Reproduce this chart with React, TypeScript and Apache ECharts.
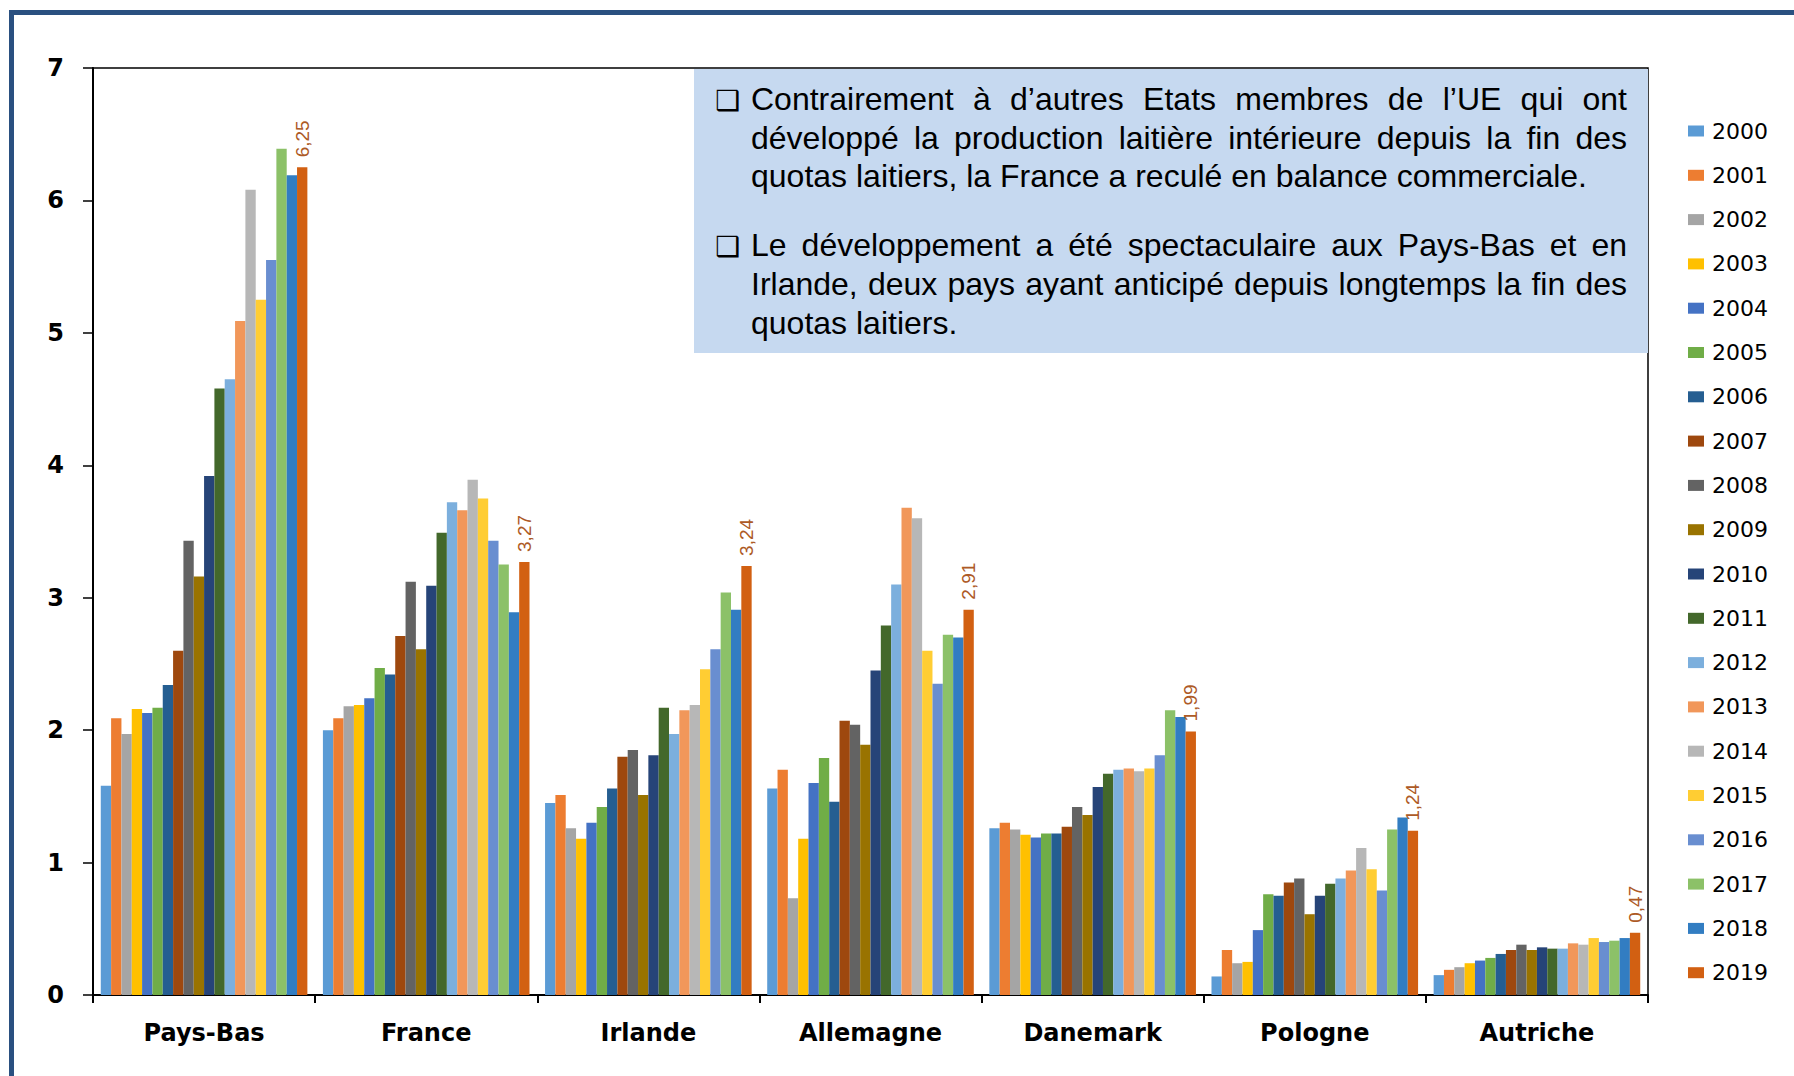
import React, { useEffect, useRef } from "react";
import * as echarts from "echarts";

const categories = ["Pays-Bas", "France", "Irlande", "Allemagne", "Danemark", "Pologne", "Autriche"];
const years = ["2000", "2001", "2002", "2003", "2004", "2005", "2006", "2007", "2008", "2009", "2010", "2011", "2012", "2013", "2014", "2015", "2016", "2017", "2018", "2019"];

const paysBas = [1.58, 2.09, 1.97, 2.16, 2.13, 2.17, 2.34, 2.6, 3.43, 3.16, 3.92, 4.58, 4.65, 5.09, 6.08, 5.25, 5.55, 6.39, 6.19, 6.25];
const france = [2.0, 2.09, 2.18, 2.19, 2.24, 2.47, 2.42, 2.71, 3.12, 2.61, 3.09, 3.49, 3.72, 3.66, 3.89, 3.75, 3.43, 3.25, 2.89, 3.27];
const irlande = [1.45, 1.51, 1.26, 1.18, 1.3, 1.42, 1.56, 1.8, 1.85, 1.51, 1.81, 2.17, 1.97, 2.15, 2.19, 2.46, 2.61, 3.04, 2.91, 3.24];
const allemagne = [1.56, 1.7, 0.73, 1.18, 1.6, 1.79, 1.46, 2.07, 2.04, 1.89, 2.45, 2.79, 3.1, 3.68, 3.6, 2.6, 2.35, 2.72, 2.7, 2.91];
const danemark = [1.26, 1.3, 1.25, 1.21, 1.19, 1.22, 1.22, 1.27, 1.42, 1.36, 1.57, 1.67, 1.7, 1.71, 1.69, 1.71, 1.81, 2.15, 2.1, 1.99];
const pologne = [0.14, 0.34, 0.24, 0.25, 0.49, 0.76, 0.75, 0.85, 0.88, 0.61, 0.75, 0.84, 0.88, 0.94, 1.11, 0.95, 0.79, 1.25, 1.34, 1.24];
const autriche = [0.15, 0.19, 0.21, 0.24, 0.26, 0.28, 0.31, 0.34, 0.38, 0.34, 0.36, 0.35, 0.35, 0.39, 0.38, 0.43, 0.4, 0.41, 0.43, 0.47];

const countryValues = [paysBas, france, irlande, allemagne, danemark, pologne, autriche];

const yearColors = ["#5B9BD5", "#ED7D31", "#A5A5A5", "#FFC000", "#4472C4", "#70AD47", "#255E91", "#9E480E", "#636363", "#997300", "#264478", "#43682B", "#7CAFDD", "#F1975A", "#B7B7B7", "#FFCD33", "#698ED0", "#8CC168", "#327DC2", "#D26012"];

const noteLines = [
  { text: "Contrairement à d’autres Etats membres de l’UE qui ont", justify: true, bullet: true },
  { text: "développé la production laitière intérieure depuis la fin des", justify: true, bullet: false },
  { text: "quotas laitiers, la France a reculé en balance commerciale.", justify: false, bullet: false },
  { text: "Le développement a été spectaculaire aux Pays-Bas et en", justify: true, bullet: true },
  { text: "Irlande, deux pays ayant anticipé depuis longtemps la fin des", justify: true, bullet: false },
  { text: "quotas laitiers.", justify: false, bullet: false },
];

export default function App() {
  const ref = useRef<HTMLDivElement>(null);

  useEffect(() => {
    if (!ref.current) return;
    const chart = echarts.init(ref.current, null, { renderer: "svg" });

    const W = 1794;
    const H = 1076;
    const gridLeft = 93;
    const gridRight = 1648;
    const gridTop = 68;
    const gridBottom = 995;

    const fontSize = 32;
    const fontFamily = "Liberation Sans";
    const canvas = document.createElement("canvas");
    const ctx = canvas.getContext("2d") as CanvasRenderingContext2D;
    ctx.font = `${fontSize}px "${fontFamily}"`;
    const textLeft = 751;
    const textRight = 1627;
    const lineYs = [99, 137.5, 176, 245, 284, 322.5];

    const textEls: any[] = [];
    noteLines.forEach((ln, i) => {
      const y = lineYs[i];
      if (ln.bullet) {
        textEls.push({
          type: "text",
          x: 715,
          y: y + 1,
          z: 20,
          style: { text: "❑", fontSize: 28, fontWeight: "bold", fontFamily: "DejaVu Sans", fill: "#000", align: "left", verticalAlign: "middle" },
        });
      }
      if (ln.justify) {
        const words = ln.text.split(" ");
        const widths = words.map((w) => ctx.measureText(w).width);
        const total = widths.reduce((a, b) => a + b, 0);
        const gap = (textRight - textLeft - total) / (words.length - 1);
        let x = textLeft;
        words.forEach((w, k) => {
          textEls.push({
            type: "text",
            x,
            y,
            z: 20,
            style: { text: w, fontSize, fontFamily, fill: "#000", align: "left", verticalAlign: "middle" },
          });
          x += widths[k] + gap;
        });
      } else {
        textEls.push({
          type: "text",
          x: textLeft,
          y,
          z: 20,
          style: { text: ln.text, fontSize, fontFamily, fill: "#000", align: "left", verticalAlign: "middle" },
        });
      }
    });

    const series = years.map((yr, i) => ({
      name: yr,
      type: "bar",
      data: countryValues.map((c) => c[i]),
      barGap: "0%",
      barCategoryGap: "7%",
      itemStyle: { color: yearColors[i] },
      label:
        i === years.length - 1
          ? {
              show: true,
              position: "top",
              rotate: 90,
              align: "left",
              verticalAlign: "middle",
              distance: 10,
              fontSize: 19,
              fontFamily: "Liberation Sans",
              color: "#AD5A26",
              formatter: (p: any) => p.value.toFixed(2).replace(".", ","),
            }
          : { show: false },
    }));

    chart.setOption({
      animation: false,
      backgroundColor: "#fff",
      grid: {
        left: gridLeft,
        right: W - gridRight,
        top: gridTop,
        bottom: H - gridBottom,
        show: true,
        borderColor: "#000",
        borderWidth: 1.5,
      },
      legend: {
        orient: "vertical",
        left: 1683,
        top: 115,
        itemWidth: 16,
        itemHeight: 11,
        itemGap: 22.3,
        icon: "rect",
        data: years,
        textStyle: { fontSize: 22, lineHeight: 22, fontFamily: "DejaVu Sans", color: "#000", padding: [0, 0, 0, 3] },
      },
      xAxis: {
        type: "category",
        data: categories,
        axisLine: { show: true, lineStyle: { color: "#000", width: 2 } },
        axisTick: { show: true, length: 8, lineStyle: { color: "#000", width: 2 } },
        axisLabel: { fontSize: 24, fontWeight: "bold", fontFamily: "DejaVu Sans", color: "#000", margin: 26 },
        splitLine: { show: false },
      },
      yAxis: {
        type: "value",
        min: 0,
        max: 7,
        interval: 1,
        axisLine: { show: true, lineStyle: { color: "#000", width: 2 } },
        axisTick: { show: true, length: 10, lineStyle: { color: "#000", width: 1.5 } },
        axisLabel: { fontSize: 24, fontWeight: "bold", fontFamily: "DejaVu Sans", color: "#000", margin: 29 },
        splitLine: { show: false },
      },
      series,
      graphic: [
        {
          type: "rect",
          z: -1,
          silent: true,
          shape: { x: 11.5, y: 12.5, width: 1900, height: 1200 },
          style: { fill: "none", stroke: "#2A5080", lineWidth: 5 },
        },
        {
          type: "rect",
          z: 10,
          shape: { x: 694, y: 69, width: 954, height: 284 },
          style: { fill: "#C6D9F0" },
        },
        ...textEls,
      ],
    });

    return () => chart.dispose();
  }, []);

  return (
    <div
      ref={ref}
      style={{ position: "absolute", left: 0, top: 0, width: 1794, height: 1076, background: "#fff" }}
    />
  );
}
